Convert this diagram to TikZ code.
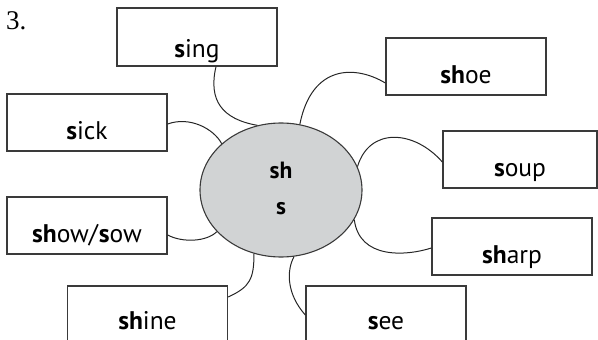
\documentclass[tikz,border=0pt]{standalone}
\usepackage{fontspec}
\setmainfont{PT Sans}
\newfontfamily\numfont{Liberation Serif}
\usetikzlibrary{shapes.geometric}
\definecolor{boxline}{HTML}{3A3A3A}
\definecolor{hubfill}{HTML}{D1D3D4}
\tikzset{
  wordbox/.style={draw=boxline, line width=1.3pt, inner sep=0pt, minimum width=160pt,
    text height=45pt, text depth=12pt, anchor=base,
    font=\fontsize{25.5}{25.5}\selectfont},
  link/.style={draw=black!85, line width=1pt},
}
\begin{document}
\begin{tikzpicture}[x=1pt,y=-1pt]
\useasboundingbox (0,0) rectangle (598,340);
\clip (0,0) rectangle (598,340);
\node[anchor=base west, inner sep=0pt, font=\numfont\fontsize{27}{27}\selectfont] (num) at (6,29) {3.};
\node[ellipse, draw=boxline, line width=1.1pt, fill=hubfill, minimum width=162pt, minimum height=134pt, inner sep=0pt] (hub) at (281,190) {};
\node[font=\fontsize{23.5}{23.5}\selectfont\bfseries, anchor=base, inner sep=0pt] (hsh) at (281,178) {sh};
\node[font=\fontsize{23.5}{23.5}\selectfont\bfseries, anchor=base, inner sep=0pt] (hs) at (281,214) {s};
\node[wordbox, text height=49pt, text depth=9pt] (sing) at (197,57) {\textbf{s}ing};
\node[wordbox] (sick) at (87,139) {\textbf{s}ick};
\node[wordbox] (shoe) at (466,83) {\textbf{sh}oe};
\node[wordbox, minimum width=154pt] (soup) at (520,176) {\textbf{s}oup};
\node[wordbox] (show) at (87,242) {\textbf{sh}ow/\textbf{s}ow};
\node[wordbox] (sharp) at (512,263) {\textbf{sh}arp};
\node[wordbox, text height=43pt, text depth=25pt] (shine) at (147.5,329) {\textbf{sh}ine};
\node[wordbox, text height=43pt, text depth=25pt] (see) at (386,329) {\textbf{s}ee};
\draw[link] ([xshift=19pt]sing.south) .. controls +(-8,34) and +(-35,-6) .. (hub.110);
\draw[link] ([yshift=-1.5pt]sick.east) .. controls +(22,-8) and +(-8,-15) .. (hub.142);
\draw[link] ([yshift=-16.5pt]shoe.west) .. controls +(-30,-18) and +(12,-60) .. (hub.74);
\draw[link] ([yshift=-2.5pt]soup.west) .. controls +(-28,-32) and +(12,-40) .. (hub.17);
\draw[link] ([yshift=-9.5pt]show.east) .. controls +(15,8) and +(-10,10) .. (hub.213);
\draw[link] ([yshift=23pt]shine.east) .. controls +(22,-10) and +(0,25) .. (hub.247);
\draw[link] ([yshift=5pt]see.west) .. controls +(-18,-20) and +(-8,15) .. (hub.281);
\draw[link] (hub.338) .. controls +(5,40) and +(-25,8) .. ([yshift=-1.5pt]sharp.west);
\end{tikzpicture}
\end{document}
